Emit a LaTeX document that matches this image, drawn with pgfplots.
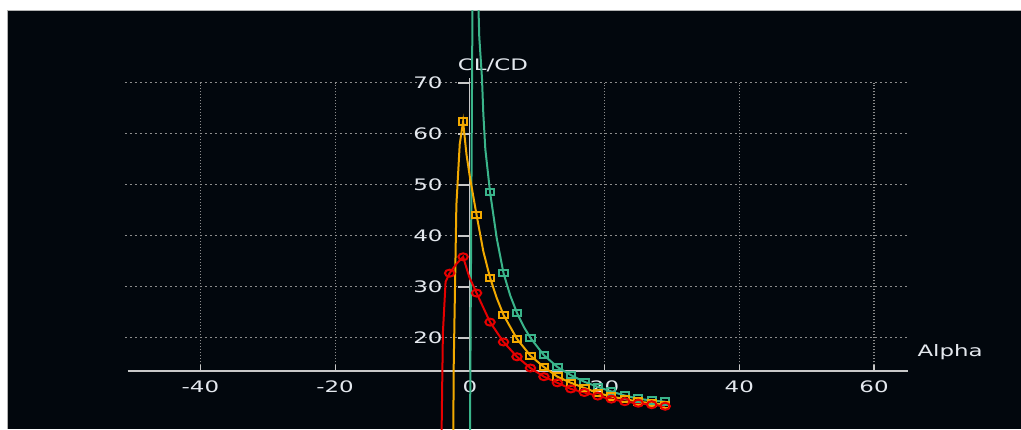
\documentclass[border=0pt]{standalone}
\usepackage{pgfplots}
\pgfplotsset{compat=1.18}
\usepackage{fontspec}
\newfontfamily\cf[FakeStretch=1.45]{DejaVu Sans}
\definecolor{bgdark}{HTML}{02070D}
\definecolor{gridc}{HTML}{8C8C8C}
\definecolor{axc}{HTML}{C8C8C8}
\definecolor{txt}{HTML}{E4E8EE}
\definecolor{cgreen}{HTML}{3AB48A}
\definecolor{corange}{HTML}{F2A900}
\definecolor{cred}{HTML}{E60000}
\begin{document}
\begin{tikzpicture}[x=1pt,y=1pt]
\path[use as bounding box] (0,0) rectangle (510.5,214.5);
\fill[white] (0,0) rectangle (510.5,214.5);
\fill[bgdark] (4,0) rectangle (510.5,209);
\draw[gray!60, line width=0.7pt] (3.7,0) -- (3.7,209.1) -- (510.5,209.1);
\begin{axis}[at={(4pt,0pt)}, anchor=south west, scale only axis,
  width=506.5pt, height=209pt,
  xmin=-68.56, xmax=81.82, ymin=2.14, ymax=84.1,
  hide axis, clip=true]
% grid
\pgfplotsinvokeforeach{20,30,40,50,60,70}{
  \draw[gridc, line width=0.55pt, dash pattern=on 0.9pt off 1.6pt] (axis cs:-51.2,#1) -- (axis cs:65,#1);
  \draw[axc, line width=0.6pt] (axis cs:-1.7,#1) -- (axis cs:0,#1);
  \node[anchor=east, inner sep=0pt, text=txt, font=\cf\fontsize{7.9}{9}\selectfont] at (axis cs:-4,#1) {#1};
}
\pgfplotsinvokeforeach{-40,-20,20,40,60}{
  \draw[gridc, line width=0.55pt, dash pattern=on 0.6pt off 0.9pt] (axis cs:#1,14.6) -- (axis cs:#1,70);
}
\pgfplotsinvokeforeach{-40,-20,0,20,40,60}{
  \draw[axc, line width=0.6pt] (axis cs:#1,13.5) -- (axis cs:#1,14.6);
  \node[anchor=center, inner sep=0pt, text=txt, font=\cf\fontsize{7.9}{9}\selectfont] at (axis cs:#1,10.4) {#1};
}
\draw[axc, line width=0.6pt] (axis cs:-50.8,13.5) -- (axis cs:65,13.5);
\draw[axc, line width=0.6pt] (axis cs:0,13.5) -- (axis cs:0,71);
\node[anchor=center, inner sep=0pt, text=txt, font=\cf\fontsize{7.9}{9}\selectfont] at (axis cs:3.44,73.4) {CL/CD};
\node[anchor=center, inner sep=0pt, text=txt, font=\cf\fontsize{7.9}{9}\selectfont] at (axis cs:71.3,17.2) {Alpha};
% green
\addplot[cgreen, line width=1pt] coordinates {
(0,-5) (0.5,110) (1,98) (1.4,79) (1.8,71) (2.0,64) (2.3,57) (3,48.6) (4,39.5) (5,32.7) (6,28.3) (7,24.9) (8,22.2) (9,20.0) (11,16.6) (13,14.3) (15,12.7) (17,11.4) (19,10.4) (21,9.5) (23,8.7) (25,8.1) (27,7.7) (29,7.5)};
\addplot[only marks, mark=square, mark size=1.6pt, mark options={xscale=1.3, line width=1pt, fill=bgdark, draw=cgreen}] coordinates {
(3,48.6) (5,32.7) (7,24.9) (9,20.0) (11,16.6) (13,14.3) (15,12.7) (17,11.4) (19,10.4) (21,9.5) (23,8.7) (25,8.1) (27,7.7) (29,7.5)};
% orange
\addplot[corange, line width=1pt] coordinates {
(-2.5,-10) (-2.4,14) (-2.0,46) (-1.5,58) (-1,62.4) (-0.5,56) (0,51.6) (1,44.1) (2,37) (3,31.8) (4,27.8) (5,24.5) (7,19.8) (9,16.5) (11,14.3) (13,12.4) (15,11.2) (17,10.2) (19,9.2) (21,8.5) (23,8.0) (25,7.5) (27,7.2) (29,6.9)};
\addplot[only marks, mark=square, mark size=1.6pt, mark options={xscale=1.3, line width=1pt, fill=bgdark, draw=corange}] coordinates {
(-1,62.4) (1,44.1) (3,31.8) (5,24.5) (7,19.8) (9,16.5) (11,14.3) (13,12.4) (15,11.2) (17,10.2) (19,9.2) (21,8.5) (23,8.0) (25,7.5) (27,7.2) (29,6.9)};
% red
\addplot[cred, line width=1pt] coordinates {
(-4.5,-30) (-4.1,11) (-4.0,21) (-3.6,31) (-3,32.7) (-2,34.5) (-1,35.9) (-0.1,32) (1,28.8) (3,23.1) (5,19.2) (7,16.3) (9,14.1) (11,12.4) (13,11.2) (15,10.0) (17,9.3) (19,8.6) (21,8.0) (23,7.5) (25,7.2) (27,6.9) (29,6.6)};
\addplot[only marks, mark=o, mark size=1.75pt, mark options={xscale=1.35, line width=1pt, fill=bgdark, draw=cred}] coordinates {
(-3,32.7) (-1,35.9) (1,28.8) (3,23.1) (5,19.2) (7,16.3) (9,14.1) (11,12.4) (13,11.2) (15,10.0) (17,9.3) (19,8.6) (21,8.0) (23,7.5) (25,7.2) (27,6.9) (29,6.6)};
\end{axis}
\end{tikzpicture}
\end{document}
